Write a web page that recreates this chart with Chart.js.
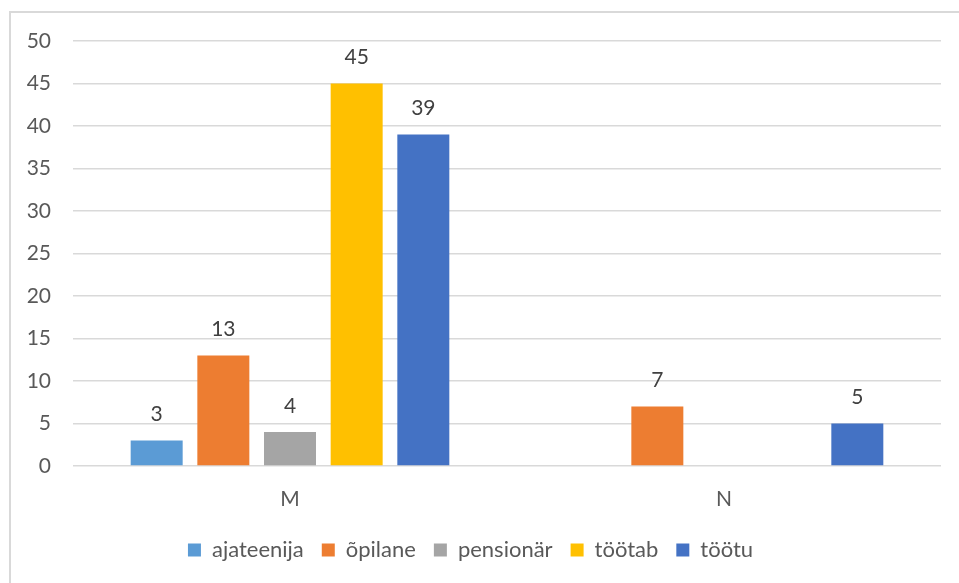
<!DOCTYPE html>
<html>
<head>
<meta charset="utf-8">
<script src="https://cdn.jsdelivr.net/npm/chart.js@4.4.0/dist/chart.umd.min.js"></script>
<style>
  html, body { margin: 0; padding: 0; background: #fff; }
  #wrap { position: relative; width: 959px; height: 583px; overflow: hidden; }
  #frame { position: absolute; left: 9px; top: 11px; width: 980px; height: 600px;
           border-left: 2px solid #d9d9d9; border-top: 2px solid #d9d9d9; }
  #chart { position: absolute; left: 0; top: 0; }
</style>
</head>
<body>
<div id="wrap">
  <div id="frame"></div>
  <canvas id="chart" width="959" height="583"></canvas>
</div>
<script>
// categories and series
const categories = ["M", "N"];
const ajateenija = [3, null];
const opilane = [13, 7];
const pensionar = [4, null];
const tootab = [45, null];
const tootu = [39, 5];
const yTicks = [0, 5, 10, 15, 20, 25, 30, 35, 40, 45, 50];

const textColor = "#595959";
const fontFamily = "Lato, 'Open Sans', sans-serif";
const fontSize = 21;

// Draw value labels above bars
const valueLabels = {
  id: "valueLabels",
  afterDatasetsDraw(chart) {
    const ctx = chart.ctx;
    ctx.save();
    ctx.font = fontSize + "px " + fontFamily;
    ctx.fillStyle = "#404040";
    ctx.textAlign = "center";
    ctx.textBaseline = "middle";
    chart.data.datasets.forEach((ds, i) => {
      const meta = chart.getDatasetMeta(i);
      meta.data.forEach((bar, j) => {
        const v = ds.data[j];
        if (v === null || v === undefined) return;
        ctx.fillText(String(v), bar.x, bar.y - 26);
      });
    });
    ctx.restore();
  },
};

const ctx = document.getElementById("chart").getContext("2d");
const chart = new Chart(ctx, {
  type: "bar",
  data: {
    labels: categories,
    datasets: [
      { label: "ajateenija", data: ajateenija, backgroundColor: "#5B9BD5" },
      { label: "õpilane", data: opilane, backgroundColor: "#ED7D31" },
      { label: "pensionär", data: pensionar, backgroundColor: "#A5A5A5" },
      { label: "töötab", data: tootab, backgroundColor: "#FFC000" },
      { label: "töötu", data: tootu, backgroundColor: "#4472C4" },
    ],
  },
  options: {
    responsive: false,
    animation: false,
    categoryPercentage: 0.768,
    barPercentage: 0.78,
    layout: {
      padding: { left: 0, right: 18, top: 41, bottom: 12 },
    },
    plugins: {
      legend: {
        position: "bottom",
        labels: {
          color: textColor,
          font: { family: fontFamily, size: 22 },
          boxWidth: 13,
          boxHeight: 13,
          padding: 18,
        },
      },
      tooltip: { enabled: false },
    },
    scales: {
      y: {
        min: 0,
        max: 50,
        afterBuildTicks(scale) {
          scale.ticks = yTicks.map((v) => ({ value: v }));
        },
        afterFit(scale) {
          scale.width = 73;
        },
        border: { display: false },
        grid: { color: "#d9d9d9", lineWidth: 1.5, drawTicks: false },
        ticks: {
          color: textColor,
          font: { family: fontFamily, size: fontSize },
          padding: 22,
        },
      },
      x: {
        afterFit(scale) {
          scale.height = 55;
        },
        border: { display: false },
        grid: { display: false },
        ticks: {
          color: textColor,
          font: { family: fontFamily, size: fontSize },
          padding: 13,
        },
      },
    },
  },
  plugins: [valueLabels],
});
</script>
</body>
</html>
